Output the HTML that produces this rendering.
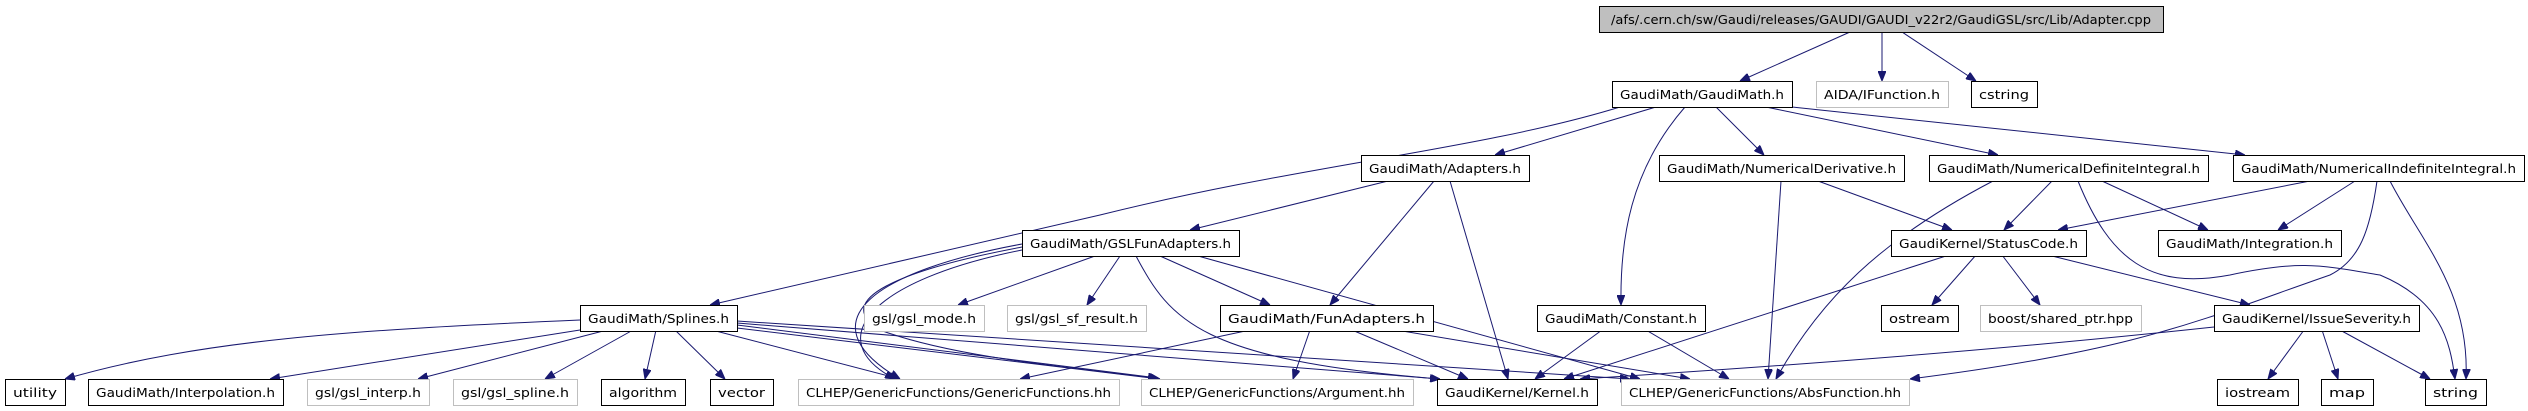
<!DOCTYPE html>
<html><head><meta charset="utf-8"><style>
html,body{margin:0;padding:0;background:#fff;width:2528px;height:411px;overflow:hidden}
svg{display:block}
text{font-family:"DejaVu Sans Condensed","Liberation Sans Narrow","Liberation Sans",sans-serif;font-size:12px;fill:#000}
.b rect{fill:#fff;stroke:#000;stroke-width:1}
.g rect{fill:#fff;stroke:#bfbfbf;stroke-width:1}
path{fill:none;stroke:#191970;stroke-width:1}
</style></head><body>
<svg width="2528" height="411" viewBox="0 0 2528 411">
<defs><marker id="a" markerWidth="10" markerHeight="8" refX="10" refY="4" orient="auto" markerUnits="userSpaceOnUse"><path d="M0,0 L10,4 L0,8 Z" style="fill:#191970;stroke:#191970"/></marker></defs>
<g marker-end="url(#a)">
<path d="M1850,32 L1740,81"/>
<path d="M1882,32 L1882,81"/>
<path d="M1902,32 L1976,81"/>
<path d="M1620,107 C1480,150 1300,165 1100,215 C950,250 820,280 710,305"/>
<path d="M1656,107 L1495,155"/>
<path d="M1685,107 C1630,170 1620,240 1621,305"/>
<path d="M1716,107 L1764,155"/>
<path d="M1766,107 L1998,155"/>
<path d="M1792,107 L2245,155"/>
<path d="M1388,181 L1190,230"/>
<path d="M1434,181 L1330,305"/>
<path d="M1450,181 L1508,379"/>
<path d="M1818,181 L1952,230"/>
<path d="M1781,181 L1768,379"/>
<path d="M2052,181 L2004,230"/>
<path d="M2102,181 L2208,230"/>
<path d="M1993,181 C1880,240 1820,300 1776,379"/>
<path d="M2078,181 C2110,260 2150,290 2230,275 C2300,260 2320,265 2380,275 C2440,300 2450,340 2455,379"/>
<path d="M2310,181 L2058,230"/>
<path d="M2355,181 L2278,230"/>
<path d="M2390,181 C2420,240 2470,290 2466,379"/>
<path d="M2377,181 C2370,230 2360,260 2330,275 C2200,320 2140,350 1910,379"/>
<path d="M1949,255 L1564,379"/>
<path d="M1976,255 L1932,305"/>
<path d="M2002,255 L2040,305"/>
<path d="M2048,255 L2250,305"/>
<path d="M2214,327 C2000,350 1800,365 1580,379"/>
<path d="M2304,330 L2268,379"/>
<path d="M2322,330 L2338,379"/>
<path d="M2340,330 L2430,379"/>
<path d="M1602,330 L1535,379"/>
<path d="M1646,330 L1729,379"/>
<path d="M1250,330 L1020,379"/>
<path d="M1310,330 L1293,379"/>
<path d="M1352,330 L1468,379"/>
<path d="M1396,330 L1690,379"/>
<path d="M1095,256 L958,305"/>
<path d="M1120,256 L1087,305"/>
<path d="M1160,256 L1270,305"/>
<path d="M1022,244 C880,270 800,320 900,379"/>
<path d="M1022,247 C900,270 830,300 880,330 C960,360 1100,370 1160,379"/>
<path d="M1022,250 C870,280 820,340 895,379"/>
<path d="M1136,256 C1170,320 1200,360 1440,379"/>
<path d="M1198,256 L1640,379"/>
<path d="M580,320 C350,330 200,340 65,379"/>
<path d="M580,330 L270,379"/>
<path d="M607,330 L418,379"/>
<path d="M633,330 L545,379"/>
<path d="M656,330 L645,379"/>
<path d="M675,330 L725,379"/>
<path d="M712,330 L900,379"/>
<path d="M737,328 L1160,379"/>
<path d="M737,325 L1158,378"/>
<path d="M737,323 L1440,379"/>
<path d="M737,321 L1630,379"/>
</g>
<g class="b"><rect x="1599.5" y="6.5" width="564" height="26" style="fill:#bfbfbf"/><text x="1881" y="24" text-anchor="middle" textLength="540" lengthAdjust="spacingAndGlyphs">/afs/.cern.ch/sw/Gaudi/releases/GAUDI/GAUDI_v22r2/GaudiGSL/src/Lib/Adapter.cpp</text></g>
<g class="b"><rect x="1612.5" y="81.5" width="180" height="26"/><text x="1702" y="99" text-anchor="middle" textLength="164" lengthAdjust="spacingAndGlyphs">GaudiMath/GaudiMath.h</text></g>
<g class="g"><rect x="1816.5" y="81.5" width="132" height="26"/><text x="1882" y="99" text-anchor="middle" textLength="116" lengthAdjust="spacingAndGlyphs">AIDA/IFunction.h</text></g>
<g class="b"><rect x="1971.5" y="81.5" width="66" height="26"/><text x="2004" y="99" text-anchor="middle" textLength="50" lengthAdjust="spacingAndGlyphs">cstring</text></g>
<g class="b"><rect x="1361.5" y="155.5" width="168" height="26"/><text x="1445" y="173" text-anchor="middle" textLength="152" lengthAdjust="spacingAndGlyphs">GaudiMath/Adapters.h</text></g>
<g class="b"><rect x="1659.5" y="155.5" width="245" height="26"/><text x="1781.5" y="173" text-anchor="middle" textLength="229" lengthAdjust="spacingAndGlyphs">GaudiMath/NumericalDerivative.h</text></g>
<g class="b"><rect x="1929.5" y="155.5" width="279" height="26"/><text x="2068.5" y="173" text-anchor="middle" textLength="263" lengthAdjust="spacingAndGlyphs">GaudiMath/NumericalDefiniteIntegral.h</text></g>
<g class="b"><rect x="2233.5" y="155.5" width="291" height="26"/><text x="2378.5" y="173" text-anchor="middle" textLength="275" lengthAdjust="spacingAndGlyphs">GaudiMath/NumericalIndefiniteIntegral.h</text></g>
<g class="b"><rect x="1022.5" y="230.5" width="217" height="26"/><text x="1130.5" y="248" text-anchor="middle" textLength="201" lengthAdjust="spacingAndGlyphs">GaudiMath/GSLFunAdapters.h</text></g>
<g class="b"><rect x="1891.5" y="230.5" width="195" height="26"/><text x="1988.5" y="248" text-anchor="middle" textLength="179" lengthAdjust="spacingAndGlyphs">GaudiKernel/StatusCode.h</text></g>
<g class="b"><rect x="2158.5" y="230.5" width="183" height="26"/><text x="2249.5" y="248" text-anchor="middle" textLength="167" lengthAdjust="spacingAndGlyphs">GaudiMath/Integration.h</text></g>
<g class="b"><rect x="580.5" y="305.5" width="157" height="26"/><text x="658.5" y="323" text-anchor="middle" textLength="141" lengthAdjust="spacingAndGlyphs">GaudiMath/Splines.h</text></g>
<g class="g"><rect x="864.5" y="305.5" width="120" height="26"/><text x="924" y="323" text-anchor="middle" textLength="104" lengthAdjust="spacingAndGlyphs">gsl/gsl_mode.h</text></g>
<g class="g"><rect x="1007.5" y="305.5" width="139" height="26"/><text x="1076.5" y="323" text-anchor="middle" textLength="123" lengthAdjust="spacingAndGlyphs">gsl/gsl_sf_result.h</text></g>
<g class="b"><rect x="1220.5" y="305.5" width="213" height="26"/><text x="1326.5" y="323" text-anchor="middle" textLength="197" lengthAdjust="spacingAndGlyphs">GaudiMath/FunAdapters.h</text></g>
<g class="b"><rect x="1537.5" y="305.5" width="168" height="26"/><text x="1621" y="323" text-anchor="middle" textLength="152" lengthAdjust="spacingAndGlyphs">GaudiMath/Constant.h</text></g>
<g class="b"><rect x="1881.5" y="305.5" width="77" height="26"/><text x="1919.5" y="323" text-anchor="middle" textLength="61" lengthAdjust="spacingAndGlyphs">ostream</text></g>
<g class="g"><rect x="1980.5" y="305.5" width="161" height="26"/><text x="2060.5" y="323" text-anchor="middle" textLength="145" lengthAdjust="spacingAndGlyphs">boost/shared_ptr.hpp</text></g>
<g class="b"><rect x="2214.5" y="305.5" width="205" height="26"/><text x="2316.5" y="323" text-anchor="middle" textLength="189" lengthAdjust="spacingAndGlyphs">GaudiKernel/IssueSeverity.h</text></g>
<g class="b"><rect x="5.5" y="379.5" width="60" height="26"/><text x="35" y="397" text-anchor="middle" textLength="44" lengthAdjust="spacingAndGlyphs">utility</text></g>
<g class="b"><rect x="88.5" y="379.5" width="195" height="26"/><text x="185.5" y="397" text-anchor="middle" textLength="179" lengthAdjust="spacingAndGlyphs">GaudiMath/Interpolation.h</text></g>
<g class="g"><rect x="307.5" y="379.5" width="122" height="26"/><text x="368" y="397" text-anchor="middle" textLength="106" lengthAdjust="spacingAndGlyphs">gsl/gsl_interp.h</text></g>
<g class="g"><rect x="453.5" y="379.5" width="124" height="26"/><text x="515" y="397" text-anchor="middle" textLength="108" lengthAdjust="spacingAndGlyphs">gsl/gsl_spline.h</text></g>
<g class="b"><rect x="601.5" y="379.5" width="84" height="26"/><text x="643" y="397" text-anchor="middle" textLength="68" lengthAdjust="spacingAndGlyphs">algorithm</text></g>
<g class="b"><rect x="710.5" y="379.5" width="63" height="26"/><text x="741.5" y="397" text-anchor="middle" textLength="47" lengthAdjust="spacingAndGlyphs">vector</text></g>
<g class="g"><rect x="798.5" y="379.5" width="321" height="26"/><text x="958.5" y="397" text-anchor="middle" textLength="305" lengthAdjust="spacingAndGlyphs">CLHEP/GenericFunctions/GenericFunctions.hh</text></g>
<g class="g"><rect x="1141.5" y="379.5" width="272" height="26"/><text x="1277" y="397" text-anchor="middle" textLength="256" lengthAdjust="spacingAndGlyphs">CLHEP/GenericFunctions/Argument.hh</text></g>
<g class="b"><rect x="1437.5" y="379.5" width="160" height="26"/><text x="1517" y="397" text-anchor="middle" textLength="144" lengthAdjust="spacingAndGlyphs">GaudiKernel/Kernel.h</text></g>
<g class="g"><rect x="1621.5" y="379.5" width="288" height="26"/><text x="1765" y="397" text-anchor="middle" textLength="272" lengthAdjust="spacingAndGlyphs">CLHEP/GenericFunctions/AbsFunction.hh</text></g>
<g class="b"><rect x="2217.5" y="379.5" width="81" height="26"/><text x="2257.5" y="397" text-anchor="middle" textLength="65" lengthAdjust="spacingAndGlyphs">iostream</text></g>
<g class="b"><rect x="2321.5" y="379.5" width="52" height="26"/><text x="2347" y="397" text-anchor="middle" textLength="36" lengthAdjust="spacingAndGlyphs">map</text></g>
<g class="b"><rect x="2425.5" y="379.5" width="61" height="26"/><text x="2455.5" y="397" text-anchor="middle" textLength="45" lengthAdjust="spacingAndGlyphs">string</text></g>
</svg>
</body></html>
